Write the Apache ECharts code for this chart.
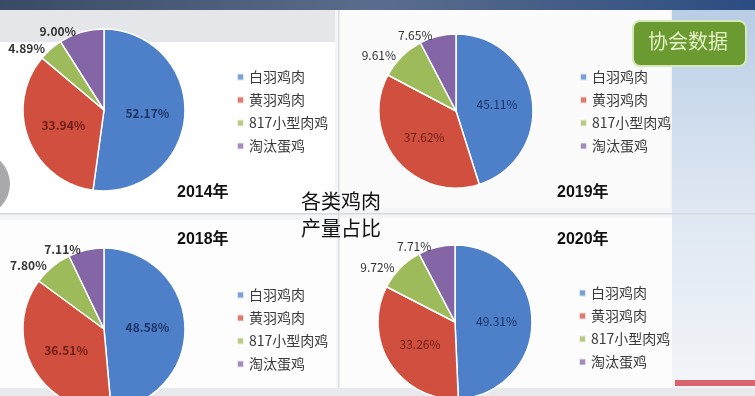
<!DOCTYPE html>
<html><head><meta charset="utf-8">
<script src="https://cdn.jsdelivr.net/npm/echarts@6/dist/echarts.min.js"></script>
<style>html,body{margin:0;padding:0;background:#f3f4f6}#c{width:755px;height:396px}</style>
</head><body><div id="c"></div>
<script>
const categories = ['白羽鸡肉', '黄羽鸡肉', '817小型肉鸡', '淘汰蛋鸡'];
const years = ['2014年', '2019年', '2018年', '2020年'];
const share2014 = [52.17, 33.94, 4.89, 9.00];
const share2019 = [45.11, 37.62, 9.61, 7.65];
const share2018 = [48.58, 36.51, 7.80, 7.11];
const share2020 = [49.31, 33.26, 9.72, 7.71];
const centerTitle = '各类鸡肉\n产量占比';
const badgeText = '协会数据';

const colors = ['#4d80c8', '#d04f3e', '#9dbb5a', '#8466a6'];
const innerColors = ['#1e3466', '#6e1e18'];
const font = '"Noto Sans CJK SC", "Liberation Sans", sans-serif';

const panels = [
  {vals: share2014, center: [104, 110], r: 81, bold: true, legend: {left: 231, top: 65}, title: {left: 172, top: 180}},
  {vals: share2019, center: [456, 111], r: 77, bold: false, legend: {left: 574, top: 65}, title: {left: 552, top: 180}},
  {vals: share2018, center: [104, 329], r: 81, bold: true, legend: {left: 231, top: 283}, title: {left: 172, top: 227}},
  {vals: share2020, center: [455, 322], r: 77, bold: false, legend: {left: 573, top: 281}, title: {left: 552, top: 227}}
];

const series = panels.map((p, i) => ({
  type: 'pie',
  center: p.center,
  radius: p.r,
  startAngle: 90,
  clockwise: true,
  animation: false,
  silent: true,
  itemStyle: {borderColor: '#ffffff', borderWidth: 1.5},
  labelLine: {show: false, length: 1, length2: 0},
  label: {
    formatter: q => q.value.toFixed(2) + '%',
    overflow: 'none',
    fontSize: 12, fontFamily: font, color: '#333', fontWeight: p.bold ? 'bold' : 'normal'
  },
  data: categories.map((c, k) => ({
    name: c,
    value: p.vals[k],
    itemStyle: {color: colors[k]},
    label: k < 2 ? {position: 'inside', color: innerColors[k]} : {position: 'outside'}
  }))
}));

const legends = panels.map(p => ({
  left: p.legend.left, top: p.legend.top, orient: 'vertical', itemGap: 9,
  itemWidth: 7, itemHeight: 7, icon: 'rect',
  selectedMode: false,
  data: categories.map((c, k) => ({name: c, itemStyle: {color: colors[k], opacity: 0.75}})),
  textStyle: {fontSize: 14, fontFamily: font, color: '#3a3a3a'}
}));

const titles = panels.map((p, i) => ({
  text: years[i], left: p.title.left, top: p.title.top,
  textStyle: {fontSize: 16, fontWeight: 'bold', color: '#111', fontFamily: '"Liberation Sans", "Noto Sans CJK SC", sans-serif'}
}));
titles.push({
  text: centerTitle, left: 296, top: 183,
  textStyle: {fontSize: 20, fontWeight: 'normal', color: '#111', lineHeight: 27, fontFamily: font}
});

const chart = echarts.init(document.getElementById('c'), null, {renderer: 'canvas'});
chart.setOption({
  backgroundColor: '#f4f5f7',
  animation: false,
  graphic: [
    {type: 'rect', z: -10, shape: {x: 0, y: 0, width: 755, height: 10},
     style: {fill: new echarts.graphic.LinearGradient(0, 0, 1, 0, [{offset: 0, color: '#3a4a66'}, {offset: 0.5, color: '#5b6d8c'}, {offset: 1, color: '#2c4d82'}])}},
    {type: 'rect', z: -10, shape: {x: 672, y: 10, width: 83, height: 386},
     style: {fill: new echarts.graphic.LinearGradient(0, 0, 0, 1, [{offset: 0, color: '#b9cde6'}, {offset: 0.45, color: '#dbe5f1'}, {offset: 1, color: '#f3f5f8'}])}},
    {type: 'rect', z: -9, shape: {x: 0, y: 10, width: 335, height: 32}, style: {fill: '#e4e6ea'}},
    {type: 'rect', z: -9, shape: {x: 0, y: 42, width: 335, height: 172}, style: {fill: '#ffffff'}},
    {type: 'rect', z: -9, shape: {x: 340, y: 10, width: 330, height: 198}, style: {fill: '#fbfbfc'}},
    {type: 'rect', z: -9, shape: {x: 0, y: 220, width: 336, height: 176}, style: {fill: '#fdfdfd'}},
    {type: 'rect', z: -9, shape: {x: 340, y: 218, width: 332, height: 172}, style: {fill: '#fcfcfc'}},
    {type: 'rect', z: -8, shape: {x: 0, y: 213, width: 755, height: 1.5}, style: {fill: '#d8dadd'}},
    {type: 'rect', z: -8, shape: {x: 338, y: 10, width: 1.5, height: 386}, style: {fill: '#dcdee1'}},
    {type: 'rect', z: -8, shape: {x: 675, y: 380, width: 80, height: 6}, style: {fill: '#d9636a'}},
    {type: 'rect', z: -8, shape: {x: 0, y: 388, width: 755, height: 8}, style: {fill: '#e7e9ed'}},
    {type: 'circle', z: -8, shape: {cx: -22, cy: 184, r: 32}, style: {fill: '#a9a9ab'}},
    {type: 'rect', z: 5, shape: {x: 633, y: 21, width: 113, height: 45, r: 7},
     style: {fill: '#6b9a31', stroke: '#d4e8b8', lineWidth: 2}},
    {type: 'text', z: 6, left: 648, top: 31,
     style: {text: badgeText, fill: '#e4f0c6', fontSize: 20, fontFamily: font}}
  ],
  title: titles,
  legend: legends,
  series: series
});
</script></body></html>
